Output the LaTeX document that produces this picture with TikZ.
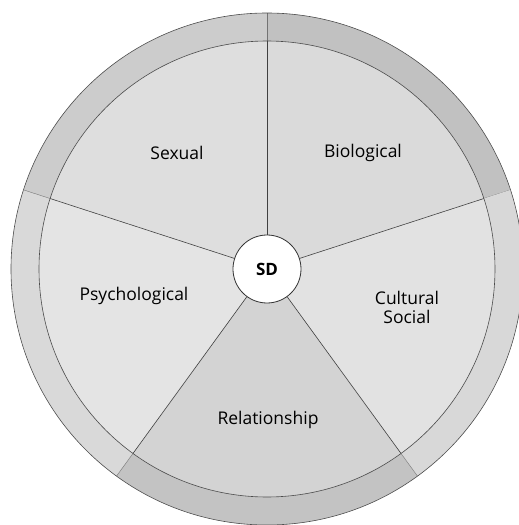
\documentclass[tikz,border=0pt]{standalone}
\usepackage{fontspec}
\setmainfont{Open Sans}

\definecolor{sexfill}{HTML}{DEDEDE}
\definecolor{biofill}{HTML}{DADADA}
\definecolor{culfill}{HTML}{E2E2E2}
\definecolor{relfill}{HTML}{D3D3D3}
\definecolor{psyfill}{HTML}{E4E4E4}
\definecolor{sexring}{HTML}{CCCCCC}
\definecolor{bioring}{HTML}{C1C1C1}
\definecolor{culring}{HTML}{D8D8D8}
\definecolor{relring}{HTML}{C3C3C3}
\definecolor{psyring}{HTML}{D9D9D9}

\tikzstyle{area} = [font=\fontsize{17.5}{19}\selectfont,
                    text=black,
                    align=center]
\tikzstyle{core} = [circle, minimum size=68pt,
                    inner sep=0pt,
                    fill=white,
                    draw=black!80,
                    thick,
                    font=\bfseries\fontsize{17}{19}\selectfont]
\tikzstyle{spoke} = [draw=black!75, semithick]
\tikzstyle{rim} = [draw=black!70, semithick]

\begin{document}
\begin{tikzpicture}[x=1pt, y=1pt]

  \useasboundingbox (-267,-256) rectangle (252,269);

  % ring pieces and wedges, starting angle / colours
  \foreach \a/\wedge/\band in {18/biofill/bioring, 90/sexfill/sexring,
                              162/psyfill/psyring, 234/relfill/relring,
                              306/culfill/culring} {
    \fill[\band] (\a:228) -- (\a:256)
      arc[start angle=\a, end angle=\a+72, radius=256]
      -- (\a+72:228)
      arc[start angle=\a+72, end angle=\a, radius=228] -- cycle;
    \fill[\wedge] (0,0) -- (\a:228)
      arc[start angle=\a, end angle=\a+72, radius=228] -- cycle;
    \draw[black!55] (\a:228) -- (\a:256);
  }

  \draw[rim] (0,0) circle[radius=256];
  \draw[rim] (0,0) circle[radius=228];

  \node (sd) [core] at (0,0) {SD};

  \foreach \a [count=\i] in {90,18,-54,-126,162} {
    \coordinate (b\i) at (\a:228);
    \draw[spoke] (sd) -- (b\i);
  }

  \node (sexual) [area] at (-90,116) {Sexual};
  \node (biological) [area] at (96,116) {Biological};
  \node (psychological) [area] at (-133,-27) {Psychological};
  \node (cultural) [area] at (140,-38) {Cultural\\Social};
  \node (relationship) [area] at (1,-151) {Relationship};

\end{tikzpicture}
\end{document}
